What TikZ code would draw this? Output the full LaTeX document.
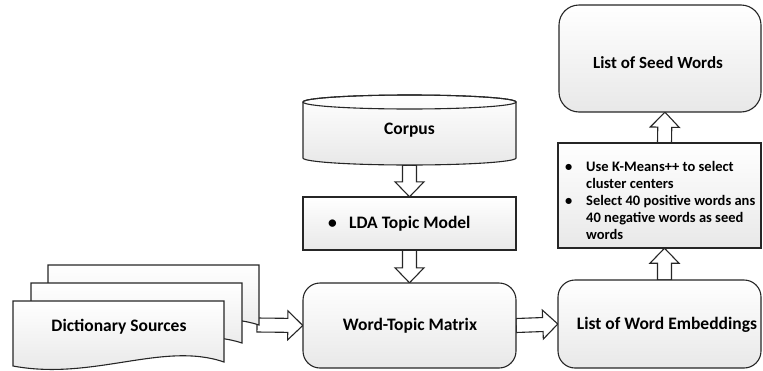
\documentclass[tikz,border=0pt]{standalone}
\usepackage{fontspec}
\setmainfont{Carlito}
\usetikzlibrary{calc}

\tikzset{
  outline/.style={draw=black!85, line width=1.1pt},
  shapebox/.style={outline, top color=white, bottom color=black!9, inner sep=0pt},
  roundbox/.style={shapebox, rounded corners=17pt},
  docshape/.style={outline, top color=white, bottom color=black!10, line join=miter},
  label/.style={font=\fontsize{17.5}{20}\selectfont\bfseries, text=black},
  listtext/.style={font=\fontsize{14.5}{17}\selectfont\bfseries, text=black},
  fatarrow/.style={outline, fill=white, line join=miter},
}

% block arrow: shaft half width, head half width, head length
\newcommand\fashaft{7pt}
\newcommand\fahalf{14.5pt}
\newcommand\fahead{15pt}
\newcommand\fatarrow[2]{%
  \coordinate (fa-s) at (#1);
  \coordinate (fa-t) at (#2);
  \coordinate (fa-b) at ($(fa-t)!\fahead!(fa-s)$);
  \draw[fatarrow]
    ($(fa-s)!\fashaft!90:(fa-t)$) -- ($(fa-b)!\fashaft!-90:(fa-s)$)
    -- ($(fa-b)!\fahalf!-90:(fa-s)$) -- (fa-t)
    -- ($(fa-b)!\fahalf!90:(fa-s)$) -- ($(fa-b)!\fashaft!90:(fa-s)$)
    -- ($(fa-s)!\fashaft!-90:(fa-t)$) -- cycle;}

\begin{document}
\begin{tikzpicture}[x=1pt, y=-1pt]
\useasboundingbox (0,0) rectangle (763,370);

% node frames (placed first so the arrows can refer to them)
\path
  (409.5,130)   node[minimum width=213, minimum height=70, inner sep=0pt] (corpus) {}
  (409.5,223.5) node[minimum width=213, minimum height=53, inner sep=0pt] (lda) {}
  (409.5,325.5) node[minimum width=213, minimum height=85, inner sep=0pt] (wtm) {}
  (659.5,324)   node[minimum width=203, minimum height=88, inner sep=0pt] (emb) {}
  (659.5,195.5) node[minimum width=203, minimum height=105, inner sep=0pt] (mid) {}
  (660,58.5)    node[minimum width=202, minimum height=107, inner sep=0pt] (seed) {};
\coordinate (dictout) at (257,325);

% block arrows
\fatarrow{corpus.south}{lda.north}
\fatarrow{lda.south}{wtm.north}
\fatarrow{dictout}{wtm.west}
\fatarrow{wtm.east}{emb.west}
\fatarrow{[xshift=5pt]emb.north}{[xshift=5pt]mid.south}
\fatarrow{[xshift=5pt]mid.north}{[xshift=5pt]seed.south}

% stacked documents
\draw[docshape, shift={(48,265)}] (0,0) -- (211,0) -- (211,60)
  .. controls (150,40) and (80,80) .. (0,65) -- cycle;
\draw[docshape, shift={(31,283)}] (0,0) -- (211,0) -- (211,60)
  .. controls (150,40) and (80,80) .. (0,65) -- cycle;
\draw[docshape, shift={(13,301)}] (0,0) -- (211,0) -- (211,61)
  .. controls (150,40) and (80,80) .. (0,65) -- cycle;
\node[label] (dict) at (119,327) {Dictionary Sources};

% corpus cylinder
\draw[shapebox] (303,102) -- (303,158)
  arc[start angle=180, end angle=0, x radius=106.5, y radius=7]
  -- (516,102)
  arc[start angle=0, end angle=-180, x radius=106.5, y radius=7] -- cycle;
\draw[outline] (409.5,102) ellipse[x radius=106.5, y radius=7];
\node[label] at (409.5,130) {Corpus};

% boxes
\node[shapebox, minimum width=213, minimum height=53] at (lda) {};
\node[label, anchor=west, inner sep=0pt] at (328,223.5)
  {\makebox[21pt][l]{\textbullet}LDA Topic Model};
\node[roundbox, minimum width=213, minimum height=85] at (wtm) {};
\node[label] at (410,326) {Word-Topic Matrix};
\node[roundbox, minimum width=203, minimum height=88] at (emb) {};
\node[label] at (667,325) {List of Word Embeddings};
\node[shapebox, minimum width=203, minimum height=105] at (mid) {};
\node[listtext, anchor=north west, inner sep=0pt] at (565,159.5) {%
  \renewcommand\arraystretch{1}%
  \begin{tabular}{@{}p{21pt}@{}l@{}}
  \textbullet & Use K-Means++ to select\\
              & cluster centers\\
  \textbullet & Select 40 positive words ans\\
              & 40 negative words as seed\\
              & words
  \end{tabular}};
\node[roundbox, rounded corners=20pt, minimum width=202, minimum height=107] at (seed) {};
\node[label, font=\fontsize{17}{20}\selectfont\bfseries] at (658,63) {List of Seed Words};
\end{tikzpicture}
\end{document}
